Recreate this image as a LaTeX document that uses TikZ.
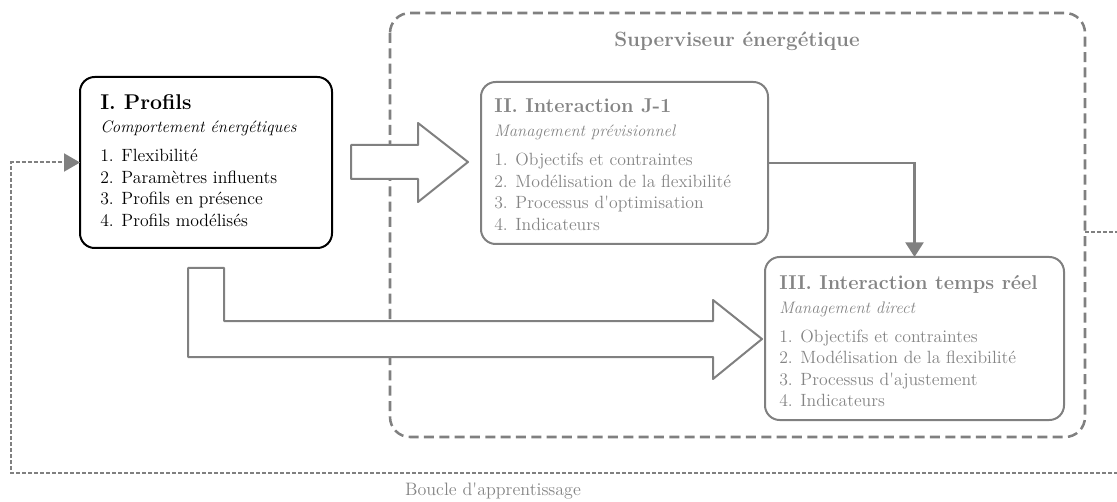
\documentclass[tikz,border=0pt]{standalone}
\usepackage{fontspec}
\usetikzlibrary{arrows.meta}
\definecolor{lg}{RGB}{128,128,128}
\definecolor{tg}{RGB}{132,132,132}
\newcommand{\apos}{\XeTeXglyph\XeTeXglyphindex "quotesingle"\relax}
\begin{document}
\begin{tikzpicture}[x=0.75pt,y=-0.75pt,
  box/.style={rounded corners=11pt,line width=1.5pt,inner sep=0pt,outer sep=0pt},
  ttl/.style={anchor=base west,inner sep=0pt,font=\fontsize{15}{18}\selectfont\bfseries},
  sub/.style={anchor=base west,inner sep=0pt,font=\fontsize{12.5}{15}\selectfont\itshape},
  itm/.style={anchor=base west,inner sep=0pt,font=\fontsize{13.3}{16}\selectfont},
  blk/.style={draw=lg,line width=1.5pt,line join=round,fill=white},
  conn/.style={draw=lg,line width=1.9pt,-{Triangle[length=11pt,width=13.5pt]}},
  loop/.style={draw=lg,line width=1.5pt,dash pattern=on 3pt off 1.5pt,-{Triangle[length=12pt,width=13.5pt]}},
  supbox/.style={draw=lg,line width=1.9pt,dash pattern=on 7.5pt off 4pt,rounded corners=15pt}]
\useasboundingbox (0,0) rectangle (1117,502);
\clip (0,0) rectangle (1117,502);

% supervisor dashed box
\draw[supbox] (390,13) rectangle (1085,437);
\coordinate (supE) at (1085,232);
\node[inner sep=0pt,anchor=base,text=tg,font=\fontsize{15.5}{18}\selectfont\bfseries] (supt) at (737,47) {Superviseur énergétique};

% block arrow I -> II
\draw[blk] (351,145) -- (418,145) -- (418,123) -- (468,162) -- (418,202) -- (418,179) -- (351,179) -- cycle;
% L-shaped block arrow I -> III
\draw[blk] (188,268) -- (224,268) -- (224,321) -- (713,321) -- (713,300) -- (762,339) -- (713,379) -- (713,357) -- (188,357) -- cycle;

% Box I
\draw[box,draw=black] (80,77) rectangle (332,248);
\node[draw=none,minimum width=189pt,minimum height=128.25pt,inner sep=0pt,outer sep=0pt] (b1) at (206,162.5) {};
\node[ttl,font=\fontsize{16}{18}\selectfont\bfseries] (b1t) at (100,110) {I. Profils};
\node[sub] (b1s) at (100,133) {Comportement énergétiques};
\node[itm] (b1a) at (100,162) {1. Flexibilité};
\node[itm] (b1b) at (100,183.5) {2. Paramètres influents};
\node[itm] (b1c) at (100,205) {3. Profils en présence};
\node[itm] (b1d) at (100,226.5) {4. Profils modélisés};

% Box II
\draw[box,draw=lg] (481,82) rectangle (768,244);
\node[draw=none,minimum width=215.25pt,minimum height=121.5pt,inner sep=0pt,outer sep=0pt] (b2) at (624.5,163) {};
\begin{scope}[every node/.append style={text=tg}]
\node[ttl] (b2t) at (494,113) {II. Interaction J-1};
\node[sub] (b2s) at (494,137) {Management prévisionnel};
\node[itm] (b2a) at (494,166) {1. Objectifs et contraintes};
\node[itm] (b2b) at (494,187.5) {2. Modélisation de la flexibilité};
\node[itm] (b2c) at (494,209) {3. Processus d\apos optimisation};
\node[itm] (b2d) at (494,230.5) {4. Indicateurs};
\end{scope}

% Box III
\draw[box,draw=lg] (765,257) rectangle (1064,420);
\node[draw=none,minimum width=224.25pt,minimum height=122.25pt,inner sep=0pt,outer sep=0pt] (b3) at (914.5,338.5) {};
\begin{scope}[every node/.append style={text=tg}]
\node[ttl] (b3t) at (779,290) {III. Interaction temps réel};
\node[sub] (b3s) at (779,313) {Management direct};
\node[itm] (b3a) at (779,342) {1. Objectifs et contraintes};
\node[itm] (b3b) at (779,363.5) {2. Modélisation de la flexibilité};
\node[itm] (b3c) at (779,385) {3. Processus d\apos ajustement};
\node[itm] (b3d) at (779,406.5) {4. Indicateurs};
\end{scope}

% connector II -> III
\draw[conn] (b2.east) -| (b3.north);

% learning loop
\coordinate (lr) at (1140,232);
\coordinate (lb) at (1140,473);
\coordinate (lbl) at (11,473);
\coordinate (ltl) at (11,162.5);
\draw[loop] (supE) -- (lr) -- (lb) -- (lbl) -- (ltl) -- (b1.west);
\node[inner sep=0pt,anchor=base,text=tg,font=\fontsize{13.5}{16}\selectfont] (lbt) at (493,495) {Boucle d\apos apprentissage};
\end{tikzpicture}
\end{document}
